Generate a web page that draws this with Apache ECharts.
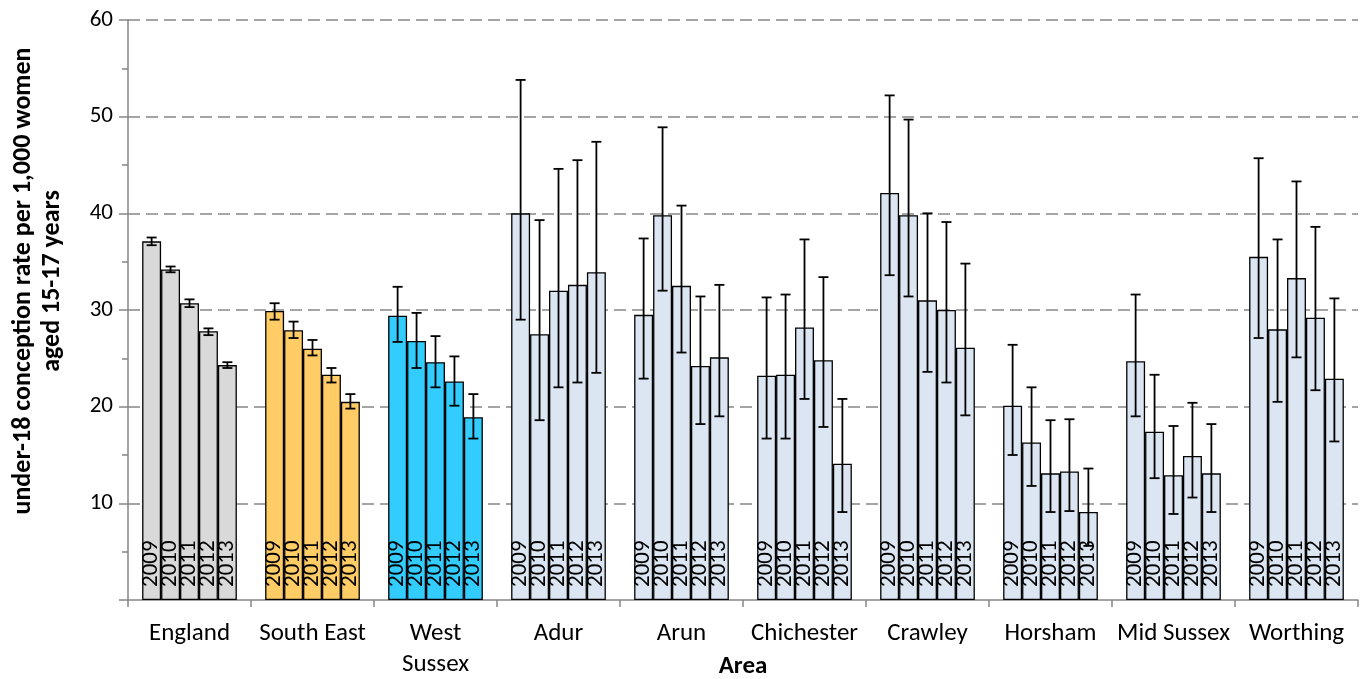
<!DOCTYPE html>
<html>
<head>
<meta charset="utf-8">
<script src="https://cdn.jsdelivr.net/npm/echarts@6/dist/echarts.min.js"></script>
<style>
html,body{margin:0;padding:0;background:#fff;}
#chart{width:1370px;height:679px;}
</style>
</head>
<body>
<div id="chart"></div>
<script>
const areas = ['England','South East','West\nSussex','Adur','Arun','Chichester','Crawley','Horsham','Mid Sussex','Worthing'];
const years = ['2009','2010','2011','2012','2013'];
const areaColors = ['#d9d9d9','#ffcc66','#33ccff','#dce6f2','#dce6f2','#dce6f2','#dce6f2','#dce6f2','#dce6f2','#dce6f2'];
const yTicks = [0,10,20,30,40,50,60];

// rates per year, in area order
const rate2009 = [37.1, 29.9, 29.4, 40.0, 29.5, 23.2, 42.1, 20.1, 24.7, 35.5];
const rate2010 = [34.2, 27.9, 26.8, 27.5, 39.8, 23.3, 39.8, 16.3, 17.4, 28.0];
const rate2011 = [30.7, 26.0, 24.6, 32.0, 32.5, 28.2, 31.0, 13.1, 12.9, 33.3];
const rate2012 = [27.8, 23.3, 22.6, 32.6, 24.2, 24.8, 30.0, 13.3, 14.9, 29.2];
const rate2013 = [24.3, 20.5, 18.9, 33.9, 25.1, 14.1, 26.1, 9.1, 13.1, 22.9];

// lower 95% CI
const lo2009 = [36.7, 29.0, 26.7, 29.0, 22.9, 16.7, 33.6, 15.0, 19.0, 27.1];
const lo2010 = [33.9, 27.1, 24.0, 18.6, 32.0, 16.7, 31.4, 11.8, 12.6, 20.5];
const lo2011 = [30.3, 25.3, 22.0, 22.0, 25.6, 20.8, 23.6, 9.1, 8.9, 25.1];
const lo2012 = [27.4, 22.5, 20.1, 22.5, 18.2, 17.9, 22.5, 9.2, 10.6, 21.7];
const lo2013 = [24.0, 19.8, 16.7, 23.5, 19.0, 9.1, 19.1, 5.6, 9.1, 16.4];

// upper 95% CI
const hi2009 = [37.5, 30.7, 32.4, 53.8, 37.4, 31.3, 52.2, 26.4, 31.6, 45.7];
const hi2010 = [34.5, 28.8, 29.7, 39.3, 48.9, 31.6, 49.7, 22.0, 23.3, 37.3];
const hi2011 = [31.1, 26.9, 27.3, 44.6, 40.8, 37.3, 40.0, 18.6, 18.0, 43.3];
const hi2012 = [28.1, 24.0, 25.2, 45.5, 31.4, 33.4, 39.1, 18.7, 20.4, 38.6];
const hi2013 = [24.6, 21.3, 21.3, 47.4, 32.6, 20.8, 34.8, 13.6, 18.2, 31.2];

const rates = [rate2009, rate2010, rate2011, rate2012, rate2013];
const lows = [lo2009, lo2010, lo2011, lo2012, lo2013];
const highs = [hi2009, hi2010, hi2011, hi2012, hi2013];

const FONT = 'Carlito, Lato, "Liberation Sans", sans-serif';
const CAT_GAP = 0.23;

const chart = echarts.init(document.getElementById('chart'), null, {renderer: 'canvas'});

const series = [];
years.forEach((yr, j) => {
  series.push({
    type: 'bar',
    name: yr,
    data: rates[j],
    barGap: '0%',
    barCategoryGap: (CAT_GAP * 100) + '%',
    itemStyle: {
      color: p => areaColors[p.dataIndex],
      borderColor: '#000',
      borderWidth: 1.3
    },
    label: {
      show: true,
      position: 'insideBottom',
      rotate: 90,
      align: 'left',
      verticalAlign: 'middle',
      distance: 13,
      formatter: yr,
      color: '#000',
      fontFamily: FONT,
      fontSize: 23
    },
    emphasis: {disabled: true},
    z: 2
  });
});
years.forEach((yr, j) => {
  series.push({
    type: 'custom',
    name: 'err' + yr,
    data: areas.map((a, i) => [i, lows[j][i], highs[j][i]]),
    z: 5,
    silent: true,
    renderItem: function (params, api) {
      const ci = api.value(0);
      const pLo = api.coord([ci, api.value(1)]);
      const pHi = api.coord([ci, api.value(2)]);
      const band = api.size([1, 0])[0];
      const group = band * (1 - CAT_GAP);
      const bw = group / 5;
      const x = pLo[0] - group / 2 + bw * (j + 0.5);
      const cap = 5;
      const st = {stroke: '#000', lineWidth: 1.8};
      return {
        type: 'group',
        children: [
          {type: 'line', shape: {x1: x, y1: pLo[1], x2: x, y2: pHi[1]}, style: st},
          {type: 'line', shape: {x1: x - cap, y1: pLo[1], x2: x + cap, y2: pLo[1]}, style: st},
          {type: 'line', shape: {x1: x - cap, y1: pHi[1], x2: x + cap, y2: pHi[1]}, style: st}
        ]
      };
    }
  });
});

chart.setOption({
  animation: false,
  backgroundColor: '#fff',
  grid: {left: 128, right: 12, top: 20, bottom: 79, containLabel: false, outerBoundsMode: 'none'},
  xAxis: {
    type: 'category',
    data: areas,
    axisLine: {lineStyle: {color: '#868686', width: 1.5}},
    axisTick: {show: true, inside: false, length: 7, lineStyle: {color: '#868686', width: 1.5}},
    axisLabel: {
      color: '#000', fontFamily: FONT, fontSize: 25, margin: 18,
      lineHeight: 31, interval: 0
    }
  },
  yAxis: {
    type: 'value',
    min: 0, max: 60, interval: 10,
    axisLine: {show: true, lineStyle: {color: '#868686', width: 1.5}},
    axisTick: {show: true, inside: false, length: 9, lineStyle: {color: '#868686', width: 1.5}},
    minorTick: {show: true, splitNumber: 2, length: 6, lineStyle: {color: '#868686', width: 1.5}},
    axisLabel: {
      color: '#000', fontFamily: FONT, fontSize: 23, margin: 15,
      formatter: v => (v === 0 ? '' : String(v))
    },
    splitLine: {show: true, showMinLine: false, lineStyle: {color: '#868686', width: 1.5, type: [12, 6]}}
  },
  graphic: [{
    type: 'text',
    x: 38, y: 281,
    rotation: Math.PI / 2,
    style: {
      text: 'under-18 conception rate per 1,000 women\naged 15-17 years',
      fill: '#000',
      font: 'bold 26px ' + FONT,
      textAlign: 'center',
      textVerticalAlign: 'middle',
      lineHeight: 29
    }
  }, {
    type: 'text',
    x: 743, y: 667,
    style: {
      text: 'Area',
      fill: '#000',
      font: 'bold 25px ' + FONT,
      textAlign: 'center',
      textVerticalAlign: 'middle'
    }
  }],
  series: series
});
</script>
</body>
</html>
